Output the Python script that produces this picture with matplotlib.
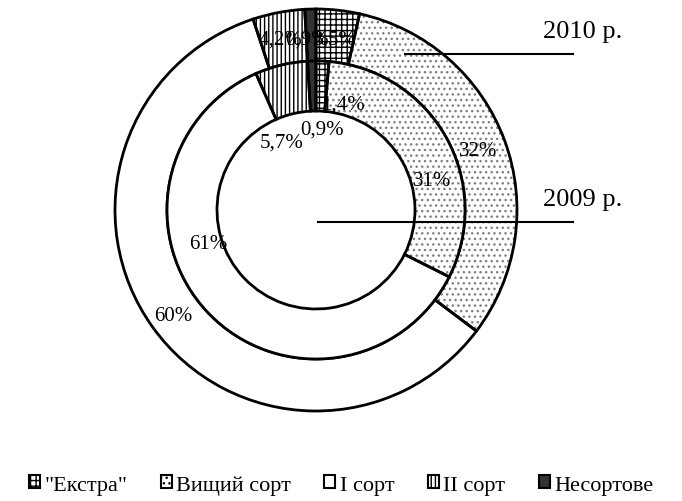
import matplotlib
matplotlib.use("Agg")
import matplotlib.pyplot as plt
from matplotlib.patches import Patch

plt.rcParams['font.family'] = ['Liberation Serif', 'DejaVu Serif']
plt.rcParams['hatch.linewidth'] = 1.0

# дані: частка сортів, %
sorts = ['"Екстра"', 'Вищий сорт', 'I сорт', 'II сорт', 'Несортове']
share_2009 = [1.4, 31, 61, 5.7, 0.9]
share_2010 = [3.5, 32, 60, 4.2, 0.9]
labels_2009 = ['1,4%', '31%', '61%', '5,7%', '0,9%']
labels_2010 = ['3,5%', '32%', '60%', '4,2%', '0,9%']

# оформлення
hatches = ['+++', '...', '', '||||', '']
hatch_colors = ['black', '#808080', 'black', 'black', 'black']
faces = ['white', 'white', 'white', 'white', '#333333']
pos_2009 = [(343, 105), (432, 182), (208, 245), (282, 143), (322, 130)]
pos_2010 = [(335, 40), (478, 152), (173, 317), (280, 40), (307, 40)]

fig = plt.figure(figsize=(6.82, 5.02), dpi=100)
ax = fig.add_axes([0, 0, 1, 1])
center = (316, 211)


def ring(values, r, w):
    # заливка і штрихування
    wedges, _ = ax.pie(values, radius=r, center=center, startangle=-90,
                       counterclock=True, colors=faces,
                       wedgeprops=dict(width=w, linewidth=0))
    for wd, h, c in zip(wedges, hatches, hatch_colors):
        wd.set_hatch(h)
        wd.set_edgecolor(c)
        wd.set_linewidth(0)
    # контури
    ax.pie(values, radius=r, center=center, startangle=-90, counterclock=True,
           wedgeprops=dict(width=w, fill=False, edgecolor='black', linewidth=2))


ring(share_2010, 201, 52)
ring(share_2009, 149, 50)

for t, (x, y) in zip(labels_2009, pos_2009):
    ax.text(x, y, t, ha='center', va='center', fontsize=15)
for t, (x, y) in zip(labels_2010, pos_2010):
    ax.text(x, y, t, ha='center', va='center', fontsize=15)

# підписи років
ax.plot([405, 573], [55, 55], color='black', lw=1.5)
ax.plot([318, 573], [223, 223], color='black', lw=1.5)
ax.text(543, 32, '2010 р.', ha='left', va='center', fontsize=19)
ax.text(543, 200, '2009 р.', ha='left', va='center', fontsize=19)

ax.set_xlim(0, 682)
ax.set_ylim(502, 0)
ax.axis('off')

handles = [Patch(facecolor=f, edgecolor='black', hatch=h, linewidth=1.5)
           for f, h in zip(faces, hatches)]
fig.legend(handles, sorts, loc='center', bbox_to_anchor=(0.5, 0.032), ncol=5,
           frameon=False, fontsize=16, handlelength=0.5, handleheight=0.5,
           handletextpad=0.2, columnspacing=1.5)

fig.savefig('out.png', dpi=100)
